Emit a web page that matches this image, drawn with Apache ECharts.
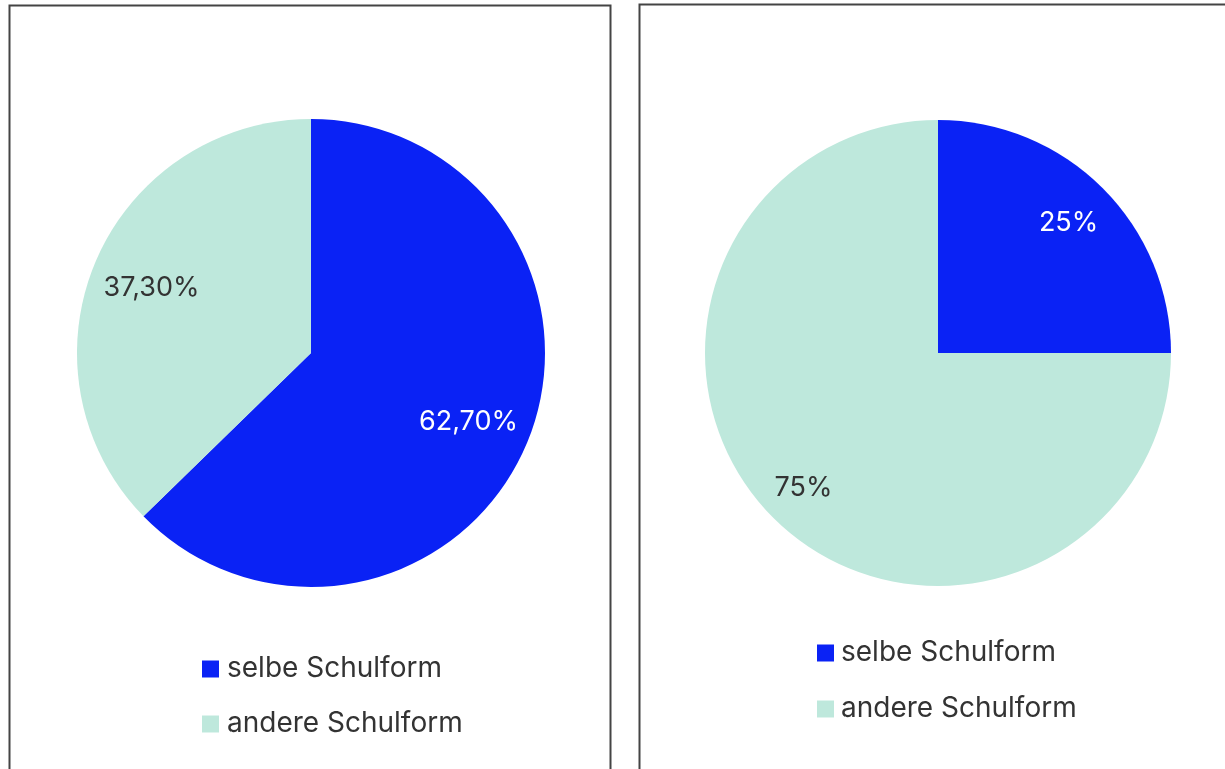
<!DOCTYPE html>
<html>
<head>
<meta charset="utf-8">
<script src="https://cdn.jsdelivr.net/npm/echarts@6/dist/echarts.min.js"></script>
<style>
  html, body { margin: 0; padding: 0; background: #fff; }
  #chart { width: 1225px; height: 769px; }
</style>
</head>
<body>
<div id="chart"></div>
<script>
var categories = ['selbe Schulform', 'andere Schulform'];
var leftValues = [62.7, 37.3];
var leftLabels = ['62,70%', '37,30%'];
var rightValues = [25, 75];
var rightLabels = ['25%', '75%'];
var colors = ['#0A22F5', '#BEE8DC'];
var textColors = ['#ffffff', '#333333'];
var font = 'Inter';

var myChart = echarts.init(document.getElementById('chart'));

function pieData(values) {
    var res = [];
    for (var i = 0; i < values.length; i++) {
        res.push({ name: categories[i], value: values[i], itemStyle: { color: colors[i] } });
    }
    return res;
}

// invisible ring only used to place the labels a bit outward
function labelData(values, labels) {
    var res = [];
    for (var i = 0; i < values.length; i++) {
        res.push({
            name: categories[i],
            value: values[i],
            itemStyle: { color: 'rgba(0,0,0,0)' },
            label: { formatter: labels[i], color: textColors[i] }
        });
    }
    return res;
}

var basePie = {
    type: 'pie',
    startAngle: 90,
    clockwise: true,
    silent: true,
    animation: false,
    label: { show: false },
    labelLine: { show: false }
};

var option = {
    backgroundColor: '#fff',
    color: colors,
    graphic: [
        { type: 'rect', shape: { x: 9.5, y: 5.5, width: 601, height: 800 },
          style: { fill: 'none', stroke: '#444', lineWidth: 2 } },
        { type: 'rect', shape: { x: 639.5, y: 4.5, width: 700, height: 800 },
          style: { fill: 'none', stroke: '#444', lineWidth: 2 } }
    ],
    legend: [
        {
            orient: 'vertical', left: 197, top: 650,
            itemWidth: 17, itemHeight: 17, itemGap: 27,
            icon: 'rect', selectedMode: false,
            data: categories,
            textStyle: { fontSize: 28, color: '#333', fontFamily: font, padding: [0, 0, 0, 3] }
        },
        {
            orient: 'vertical', left: 812, top: 634,
            itemWidth: 17, itemHeight: 17, itemGap: 28,
            icon: 'rect', selectedMode: false,
            data: categories,
            textStyle: { fontSize: 28, color: '#333', fontFamily: font, padding: [0, 0, 0, 2] }
        }
    ],
    series: [
        Object.assign({}, basePie, { name: 'links', center: [311, 353], radius: [0, 234], data: pieData(leftValues) }),
        Object.assign({}, basePie, { name: 'rechts', center: [938, 353], radius: [0, 233], data: pieData(rightValues) }),
        Object.assign({}, basePie, {
            name: 'links_label', center: [310, 355], radius: [104, 234],
            label: { show: true, position: 'inside', fontSize: 27, fontFamily: font },
            data: labelData(leftValues, leftLabels)
        }),
        Object.assign({}, basePie, {
            name: 'rechts_label', center: [936, 355], radius: [136, 233],
            label: { show: true, position: 'inside', fontSize: 27, fontFamily: font },
            data: labelData(rightValues, rightLabels)
        })
    ]
};

myChart.setOption(option);
</script>
</body>
</html>
